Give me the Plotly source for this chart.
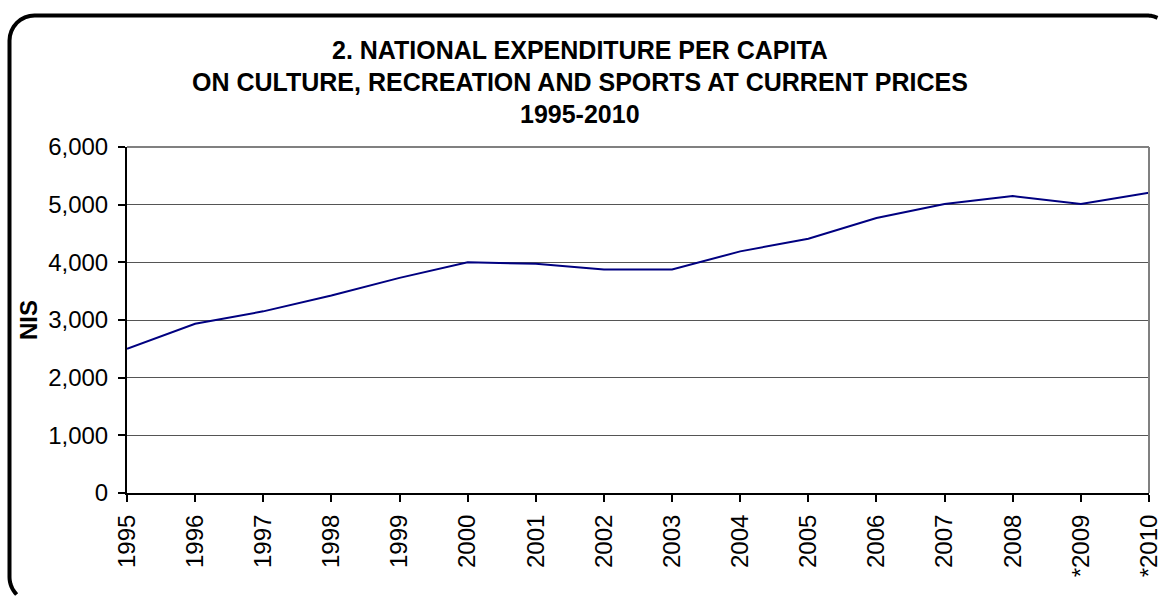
import math
import plotly.graph_objects as go

# ---- data ----
years = ["1995", "1996", "1997", "1998", "1999", "2000", "2001", "2002",
         "2003", "2004", "2005", "2006", "2007", "2008", "*2009", "*2010"]
nis_per_capita = [2500, 2935, 3150, 3425, 3730, 4000, 3975, 3875,
                  3875, 4190, 4410, 4770, 5010, 5150, 5010, 5205]
y_ticks = [0, 1000, 2000, 3000, 4000, 5000, 6000]

title_lines = ["2. NATIONAL EXPENDITURE PER CAPITA",
               "ON CULTURE, RECREATION AND SPORTS AT CURRENT PRICES",
               "1995-2010"]

FONT = "Liberation Sans, Arial, sans-serif"

W, H = 1160, 597
L, R, T, B = 127, 1149, 147, 493  # plot area in px

fig = go.Figure()
fig.add_trace(go.Scatter(
    x=years, y=nis_per_capita, mode="lines",
    line=dict(color="#000080", width=2),
    showlegend=False, hoverinfo="x+y",
))


def px_to_paper(px, py):
    return (px - L) / (R - L), (B - py) / (B - T)


# rounded outer border (decoration): the box runs past the window on the
# right and bottom, so only the visible part is traced, kept inside the page.
bx0, by0, rad = 9.5, 15.5, 25
bx1, by1 = 1172, 602
edge_x, edge_y = W - 2.5, H - 2.5
border_pts = []

# bottom-left arc (centre bx0+rad, by1-rad): from the window bottom round to the left side
cx, cy = bx0 + rad, by1 - rad
a_start = math.asin(min(1.0, (edge_y - cy) / rad))
for i in range(9):
    a = a_start * (1 - i / 8)
    border_pts.append((cx - rad * math.cos(a), cy + rad * math.sin(a)))
# top-left arc: from left side round to the top
cx, cy = bx0 + rad, by0 + rad
for i in range(9):
    a = math.pi / 2 * i / 8
    border_pts.append((cx - rad * math.cos(a), cy - rad * math.sin(a)))
# top-right arc, stopping at the window's right edge
cx, cy = bx1 - rad, by0 + rad
a_end = math.asin(min(1.0, (edge_x - cx) / rad))
for i in range(9):
    a = a_end * i / 8
    border_pts.append((cx + rad * math.sin(a), cy - rad * math.cos(a)))

path = "M " + " L ".join(
    "{:.5f},{:.5f}".format(*px_to_paper(x, y)) for x, y in border_pts)

shapes = [
    dict(type="path", path=path, xref="paper", yref="paper",
         line=dict(color="black", width=4), layer="above"),
    # gray frame on top and right of plot area
    dict(type="line", xref="paper", yref="paper", x0=0, x1=1, y0=1, y1=1,
         line=dict(color="#808080", width=2), layer="above"),
    dict(type="line", xref="paper", yref="paper", x0=1, x1=1, y0=0, y1=1,
         line=dict(color="#808080", width=2), layer="above"),
]

# title lines as centred annotations (centre of window, given line centres in px)
title_centres_px = [50, 82, 114]
annotations = []
for txt, cy in zip(title_lines, title_centres_px):
    xp, yp = px_to_paper(W / 2, cy)
    annotations.append(dict(
        text=f"<b>{txt}</b>", xref="paper", yref="paper", x=xp, y=yp,
        xanchor="center", yanchor="middle", showarrow=False,
        font=dict(family=FONT, size=25, color="black"),
    ))

fig.update_layout(
    width=W, height=H,
    margin=dict(l=L, r=W - R, t=T, b=H - B, pad=0, autoexpand=False),
    paper_bgcolor="white", plot_bgcolor="white",
    font=dict(family=FONT, color="black", size=24),
    shapes=shapes,
    annotations=annotations,
    xaxis=dict(
        type="category", categoryorder="array", categoryarray=years,
        range=[0, len(years) - 1], automargin=False,
        showgrid=False, zeroline=False,
        showline=True, linecolor="black", linewidth=2,
        ticks="outside", ticklen=7, tickwidth=2, tickcolor="black",
        tickangle=-90, tickfont=dict(family=FONT, size=24, color="black"),
        ticklabelstandoff=3,
    ),
    yaxis=dict(
        range=[0, 6000], tickvals=y_ticks, tickformat=",", automargin=False,
        showgrid=True, gridcolor="#555555", gridwidth=1,
        zeroline=False,
        showline=True, linecolor="black", linewidth=2,
        ticks="outside", ticklen=7, tickwidth=2, tickcolor="black",
        tickfont=dict(family=FONT, size=24, color="black"),
        ticklabelstandoff=5,
        title=dict(text="<b>NIS</b>", standoff=4,
                   font=dict(family=FONT, size=24, color="black")),
    ),
)

fig.write_html(
    "out.html",
    config={"displayModeBar": False},
    post_script="document.body.style.margin='0';document.body.style.overflow='hidden';",
)
